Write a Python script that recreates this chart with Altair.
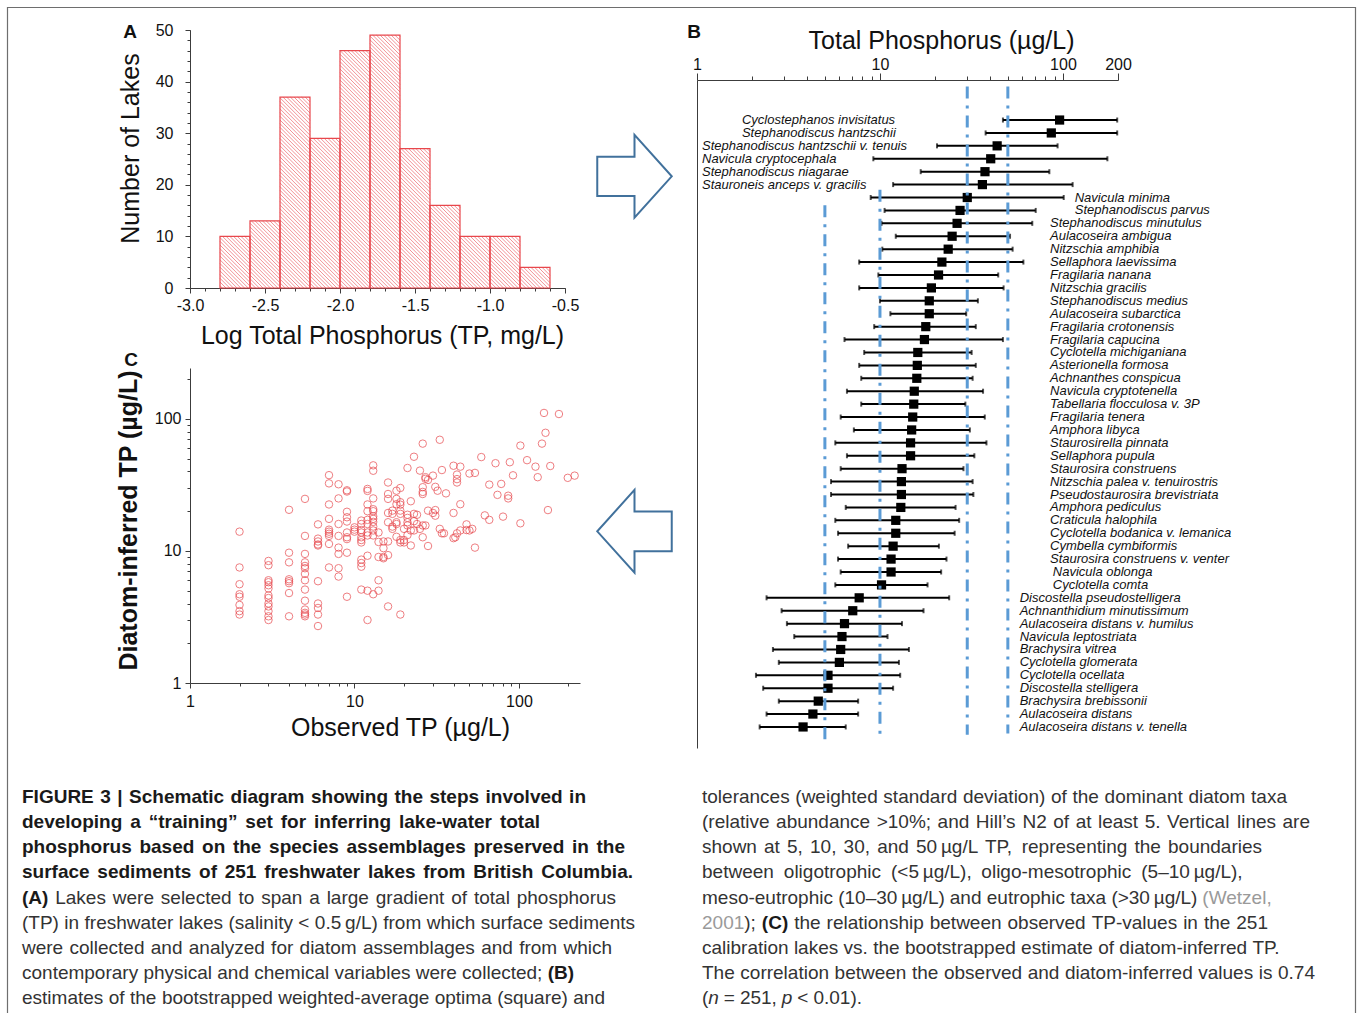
import math
import altair as alt
import pandas as pd

W, H = 1357, 1013
FONT = "Liberation Sans"
INK = "#111111"
AXC = "#3c3c3c"
RED = "#e8474c"
HATCH = "#f0868a"
BLUE = "#5b9bd5"
ARROW = "#41719c"
BORDER = "#6e6e6e"

# ---------------- Panel A: histogram of log TP (mg/L) ----------------
bin_starts = [-2.8, -2.6, -2.4, -2.2, -2.0, -1.8, -1.6, -1.4, -1.2, -1.0, -0.8]
lake_counts = [10, 13, 37, 29, 46, 49, 27, 16, 10, 10, 4]
BIN_WIDTH = 0.2
a_x_ticks = [-3.0, -2.5, -2.0, -1.5, -1.0, -0.5]
a_x_minor = [round(-3.0 + 0.1 * i, 1) for i in range(26)]
a_y_ticks = [0, 10, 20, 30, 40, 50]
a_y_minor = list(range(0, 51, 2))

# ---------------- Panel C: observed vs diatom-inferred TP ----------------
scatter_groups = {
    2: [14, 7.5, 5.6, 4.7, 4.5, 3.9, 3.5, 3.3],
    3: [8.4, 7.8, 6.0, 5.8, 5.5, 5.2, 4.6, 4.4, 4.0, 3.8, 3.5, 3.2, 3.0],
    4: [20.5, 9.7, 8.2, 6.1, 5.9, 5.7, 4.8, 3.2],
    5: [24.8, 13.0, 9.5, 8.2, 7.7, 7.4, 6.7, 6.0, 5.1, 4.2, 3.6, 3.4, 3.3, 3.2],
    6: [15.9, 12.4, 11.8, 11.2, 11.0, 5.9, 4.0, 3.7, 3.3, 2.7],
    7: [37.5, 32.5, 22.5, 17.5, 14.5, 14.0, 13.5, 13.0, 11.3, 7.5],
    8: [32, 25, 16, 13, 10.6, 9.5, 7.4, 6.4],
    9: [28.8, 28.2, 19.8, 18.0, 16.7, 13.8, 12.7, 12.3, 9.7, 4.5],
    10: [15.1, 14.5, 14.0],
    11: [17, 16, 14.4, 13.8, 12.7, 12.1, 11.6, 8.6, 8.1, 7.6, 5.1],
    12: [29.5, 28.5, 22.5, 20.0, 17.2, 16.0, 13.8, 13.1, 9.2, 5.0, 3.0],
    13: [44.5, 40.5, 25, 20.7, 20.0, 18.3, 17.5, 16.6, 15.3, 14.3, 13.1, 4.7],
    14: [13.8, 11.7, 9.0, 6.0, 5.0],
    15: [11.8, 10.5, 9.0, 8.8],
    16: [33, 27, 24.8, 19.4, 16.5, 11.8, 9.3, 3.8],
    17: [20.2, 19.1, 15.3, 14.7],
    18: [28.6, 24.8, 22.6, 16.5, 16.0, 12.8],
    19: [30, 23.4, 22.4, 20.2, 19.1, 12.1, 11.6, 3.3],
    20: [14.7, 12.1, 11.6],
    21: [42.5, 18.8, 17.8, 16.5, 15.6, 13.2],
    22: [23.8, 14.3, 11.0],
    23: [51.7, 19.1, 16.8, 14.3],
    24: [18.8, 16.0],
    25: [40.6, 14.7],
    26: [65, 30.4, 28, 27, 15.6, 12.7],
    27: [36.2, 35.2, 15.6],
    28: [34.5, 20.2, 10.9],
    30: [37.2, 19.4],
    31: [30.6, 20.4, 18.5],
    32: [28.6],
    33: [69.5, 14.7],
    34: [41, 13.6],
    35: [13.6],
    36: [27.3],
    40: [44.2, 19.4, 12.5],
    41: [12.7],
    42: [37.9, 35, 33, 13.6],
    44: [43.5, 22.6, 14.3],
    48: [15.9, 14.4],
    50: [38.6, 14.3],
    52: [14.7],
    54: [39, 10.6],
    59: [51.4],
    62: [18.6],
    66: [31.8, 17.2],
    72: [46.2],
    74: [26.6],
    78: [32.2],
    80: [18.2],
    86: [26.2, 25.0],
    88: [47.0],
    92: [37.4],
    102: [62.8, 16.2],
    112: [48.7],
    126: [43.5],
    130: [36.2],
    138: [65],
    142: [111],
    145: [78.5],
    150: [20.4],
    155: [44],
    175: [108.9],
    198: [35.8],
    218: [37.2],
}
log_major_c = [1, 10, 100]
log_minor = [2, 3, 4, 5, 6, 7, 8, 9, 20, 30, 40, 50, 60, 70, 80, 90, 200]

# ---------------- Panel B: WA optima and tolerances ----------------
species = [
    "Cyclostephanos invisitatus", "Stephanodiscus hantzschii",
    "Stephanodiscus hantzschii v. tenuis", "Navicula cryptocephala",
    "Stephanodiscus niagarae", "Stauroneis anceps v. gracilis",
    "Navicula minima", "Stephanodiscus parvus", "Stephanodiscus minutulus",
    "Aulacoseira ambigua", "Nitzschia amphibia", "Sellaphora laevissima",
    "Fragilaria nanana", "Nitzschia gracilis", "Stephanodiscus medius",
    "Aulacoseira subarctica", "Fragilaria crotonensis", "Fragilaria capucina",
    "Cyclotella michiganiana", "Asterionella formosa", "Achnanthes conspicua",
    "Navicula cryptotenella", "Tabellaria flocculosa v. 3P", "Fragilaria tenera",
    "Amphora libyca", "Staurosirella pinnata", "Sellaphora pupula",
    "Staurosira construens", "Nitzschia palea v. tenuirostris",
    "Pseudostaurosira brevistriata", "Amphora pediculus", "Craticula halophila",
    "Cyclotella bodanica v. lemanica", "Cymbella cymbiformis",
    "Staurosira construens v. venter", "Navicula oblonga", "Cyclotella comta",
    "Discostella pseudostelligera", "Achnanthidium minutissimum",
    "Aulacoseira distans v. humilus", "Navicula leptostriata", "Brachysira vitrea",
    "Cyclotella glomerata", "Cyclotella ocellata", "Discostella stelligera",
    "Brachysira brebissonii", "Aulacoseira distans", "Aulacoseira distans v. tenella",
]
optimum = [95.9, 86.4, 43.7, 40.3, 37.5, 36.3, 30.0, 27.4, 26.4, 24.8, 23.6, 21.8,
           20.9, 19.1, 18.6, 18.6, 17.8, 17.5, 16.1, 16.0, 15.9, 15.4, 15.3, 15.1,
           14.9, 14.7, 14.7, 13.2, 13.1, 13.1, 13.0, 12.2, 12.2, 11.8, 11.5, 11.5,
           10.2, 7.7, 7.1, 6.4, 6.2, 6.1, 6.0, 5.2, 5.2, 4.6, 4.3, 3.8]
tol_low = [47.0, 37.8, 20.5, 9.2, 16.7, 11.8, 8.9, 10.6, 10.2, 12.2, 10.3, 7.7,
           9.8, 7.7, 10.0, 11.4, 9.3, 6.4, 8.2, 7.7, 7.9, 6.6, 7.9, 6.1,
           7.2, 5.7, 6.6, 6.1, 5.4, 5.4, 6.5, 5.7, 5.9, 6.7, 5.9, 6.1,
           5.7, 2.4, 2.9, 3.1, 3.4, 2.6, 2.8, 2.1, 2.3, 2.8, 2.4, 2.2]
tol_high = [198, 198, 93.5, 175, 84.3, 113, 101, 71, 68, 51.4, 53.1, 60.8,
            44.3, 47.4, 34.3, 29.6, 33.4, 47.0, 31.7, 33.4, 32.1, 36.6, 29.3, 37.4,
            31.0, 38.2, 32.8, 28.6, 32.1, 32.4, 25.9, 27.1, 25.6, 21.0, 23.1, 21.6,
            18.2, 23.9, 17.3, 13.2, 11.0, 14.4, 12.7, 12.9, 11.8, 7.6, 7.6, 6.5]
label_group = ["l2"] * 2 + ["l1"] * 4 + ["r1"] * 2 + ["r2"] * 27 + ["r3"] * 2 + ["r4"] * 11
label_anchor_tp = {"l2": 1.76, "l1": 1.065, "r1": 116, "r2": 85, "r3": 88, "r4": 58}
trophic_bounds = [5, 10, 30, 50]
bound_top_row = [7.6, 6.4, -1.6, -1.6]
bound_bottom_row = [49.1, 48.6, 48.6, 48.5]
b_major = [1, 10, 100, 200]
b_minor = [2, 3, 4, 5, 6, 7, 8, 9, 20, 30, 40, 50, 60, 70, 80, 90]

# ---------------- layout (pixel frames of each panel) ----------------
A_XR, A_YR = [190, 565], [288, 30]
C_XR, C_YR = [190, 580], [683, 368]
B_XR, B_YR = [697, 1118], [80, 748]

A_XS = alt.Scale(domain=[-3.0, -0.5], range=A_XR, nice=False, zero=False)
A_YS = alt.Scale(domain=[0, 50], range=A_YR, nice=False, zero=False)
C_XS = alt.Scale(type="log", domain=[1, 235], range=C_XR, nice=False)
C_YS = alt.Scale(type="log", domain=[1, 243], range=C_YR, nice=False)
B_XS = alt.Scale(type="log", domain=[1, 200], range=B_XR, nice=False)
B_YS = alt.Scale(domain=[-2.1, 49.63], range=B_YR, nice=False, zero=False)
PX = alt.Scale(domain=[0, W], range=[0, W], nice=False, zero=False)
PY = alt.Scale(domain=[0, H], range=[0, H], nice=False, zero=False)


def axis(orient, offset, values, labels=True, tick=5, domain=True, title=None, **kw):
    args = dict(orient=orient, offset=offset, values=values, labels=labels, tickSize=tick,
                domain=domain, grid=False, tickColor=AXC, domainColor=AXC, tickWidth=1,
                domainWidth=1, labelFont=FONT, labelFontSize=16, labelColor=INK,
                labelFlush=False, labelOverlap=False, labelBound=False,
                titleFont=FONT, titleColor=INK, titleFontWeight="normal", titleFontSize=25,
                titleAlign="center", titleBaseline="middle", title=title)
    args.update(kw)
    return alt.Axis(**args)


# ---------------- Panel A layers ----------------
hist_df = pd.DataFrame({
    "x0": bin_starts,
    "x1": [round(b + BIN_WIDTH, 2) for b in bin_starts],
    "n": lake_counts,
    "base": [0] * len(bin_starts),
})

kx = (A_XR[1] - A_XR[0]) / 2.5
ky = (A_YR[0] - A_YR[1]) / 50.0
S = 3.7
hatch_rows = []
for x0, n in zip(bin_starts, lake_counts):
    u0, u1 = (x0 + 3) * kx, (x0 + BIN_WIDTH + 3) * kx
    vt, vb = (50 - n) * ky, 50 * ky
    for k in range(math.ceil((u0 - vb) / S), math.floor((u1 - vt) / S) + 1):
        c = k * S
        lo, hi = max(u0, vt + c), min(u1, vb + c)
        if hi - lo > 0.3:
            hatch_rows.append(dict(hx=lo / kx - 3, hy=50 - (lo - c) / ky,
                                   hx2=hi / kx - 3, hy2=50 - (hi - c) / ky))
hatch_df = pd.DataFrame(hatch_rows)

a_off_x = -(H - A_YR[0])
hatch = alt.Chart(hatch_df).mark_rule(color=HATCH, strokeWidth=0.9).encode(
    x=alt.X("hx:Q", scale=A_XS,
            axis=axis("bottom", a_off_x, a_x_minor, labels=False, tick=3, domain=False)),
    x2="hx2:Q",
    y=alt.Y("hy:Q", scale=A_YS,
            axis=axis("left", -A_XR[0], a_y_minor, labels=False, tick=3, domain=False)),
    y2="hy2:Q",
)
bars = alt.Chart(hist_df).mark_rect(fillOpacity=0, stroke=RED, strokeWidth=1.2).encode(
    x=alt.X("x0:Q", scale=A_XS,
            axis=axis("bottom", a_off_x, a_x_ticks, labelPadding=4,
                      labelExpr="replace(format(datum.value, '.1f'), '\u2212', '-')",
                      title="Log Total Phosphorus (TP, mg/L)", titleX=382, titleY=47)),
    x2="x1:Q",
    y=alt.Y("n:Q", scale=A_YS,
            axis=axis("left", -A_XR[0], a_y_ticks, format="d", labelPadding=12,
                      title="Number of Lakes", titleAngle=270, titleX=-60, titleY=148)),
    y2="base:Q",
)

# ---------------- Panel C layers ----------------
obs_vals, inf_vals = [], []
for o, ys in scatter_groups.items():
    for v in ys:
        obs_vals.append(o)
        inf_vals.append(v)
scat_df = pd.DataFrame({"obs": obs_vals, "inf": inf_vals})
c_off_x = -(H - C_YR[0])
scat_minor = alt.Chart(scat_df).mark_point(opacity=0).encode(
    x=alt.X("obs:Q", scale=C_XS,
            axis=axis("bottom", c_off_x, log_minor, labels=False, tick=3, domain=False)),
    y=alt.Y("inf:Q", scale=C_YS,
            axis=axis("left", -C_XR[0], log_minor, labels=False, tick=3, domain=False)),
)
scatter = alt.Chart(scat_df).mark_point(shape="circle", filled=False, color=RED,
                                        size=56, strokeWidth=1).encode(
    x=alt.X("obs:Q", scale=C_XS,
            axis=axis("bottom", c_off_x, log_major_c, format="d", labelPadding=5,
                      title="Observed TP (\u00b5g/L)", titleX=400, titleY=44)),
    y=alt.Y("inf:Q", scale=C_YS,
            axis=axis("left", -C_XR[0], log_major_c, format="d", labelPadding=4,
                      title="Diatom-inferred TP (\u00b5g/L)", titleAngle=270,
                      titleFontWeight="bold", titleX=-62, titleY=520)),
)

# ---------------- Panel B layers ----------------
rows = list(range(1, len(species) + 1))
b_df = pd.DataFrame({
    "species": species, "opt": optimum, "lo": tol_low, "hi": tol_high, "row": rows,
    "lab": [label_anchor_tp[g] for g in label_group],
})
ends_df = pd.DataFrame({"tp": tol_low + tol_high, "row": rows + rows})
bounds_df = pd.DataFrame({"tp": trophic_bounds, "r0": bound_top_row, "r1": bound_bottom_row})

b_minor_layer = alt.Chart(b_df).mark_point(opacity=0).encode(
    x=alt.X("opt:Q", scale=B_XS,
            axis=axis("top", -B_YR[0], b_minor, labels=False, tick=4, domain=False)),
    y=alt.Y("row:Q", scale=B_YS, axis=None),
)
errbars = alt.Chart(b_df).mark_rule(color="black", strokeWidth=2).encode(
    x=alt.X("lo:Q", scale=B_XS,
            axis=axis("top", -B_YR[0], b_major, format="d", tick=7, labelPadding=1,
                      title="Total Phosphorus (\u00b5g/L)", titleX=941, titleY=-40)),
    x2="hi:Q",
    y=alt.Y("row:Q", scale=B_YS,
            axis=axis("left", -B_XR[0], [0], labels=False, ticks=False)),
)
caps = alt.Chart(ends_df).mark_tick(orient="vertical", size=5, thickness=2, color="black").encode(
    x=alt.X("tp:Q", scale=B_XS, axis=None),
    y=alt.Y("row:Q", scale=B_YS, axis=None),
)
squares = alt.Chart(b_df).mark_square(size=85, filled=True, color="black", opacity=1).encode(
    x=alt.X("opt:Q", scale=B_XS, axis=None),
    y=alt.Y("row:Q", scale=B_YS, axis=None),
)
bounds = alt.Chart(bounds_df).mark_rule(color=BLUE, strokeWidth=3,
                                        strokeDash=[12, 7, 3, 7]).encode(
    x=alt.X("tp:Q", scale=B_XS, axis=None),
    y=alt.Y("r0:Q", scale=B_YS, axis=None),
    y2="r1:Q",
)
labels = alt.Chart(b_df).mark_text(font=FONT, fontSize=13, fontStyle="italic", align="left",
                                   baseline="middle", color=INK).encode(
    x=alt.X("lab:Q", scale=B_XS, axis=None),
    y=alt.Y("row:Q", scale=B_YS, axis=None),
    text="species:N",
)

# ---------------- panel letters, arrows, border ----------------
letters_df = pd.DataFrame({"t": ["A", "B", "C"], "px": [130, 694, 131], "py": [32, 32, 360]})
letters = alt.Chart(letters_df).mark_text(font=FONT, fontSize=19, fontWeight="bold",
                                          align="center", baseline="middle", color=INK).encode(
    x=alt.X("px:Q", scale=PX, axis=None), y=alt.Y("py:Q", scale=PY, axis=None), text="t:N")

arrow_right = "M -0.9 -0.475 L 0 -0.475 L 0 -1 L 0.9 0 L 0 1 L 0 0.475 L -0.9 0.475 Z"
arrow_left = "M 0.9 -0.48 L 0 -0.48 L 0 -1 L -0.9 0 L 0 1 L 0 0.48 L 0.9 0.48 Z"
arrows_df = pd.DataFrame({"shape": [arrow_right, arrow_left], "px": [634.5, 634.5],
                          "py": [176.3, 531.3]})
arrows = alt.Chart(arrows_df).mark_point(filled=False, size=6850, stroke=ARROW,
                                         strokeWidth=2, opacity=1).encode(
    x=alt.X("px:Q", scale=PX, axis=None), y=alt.Y("py:Q", scale=PY, axis=None),
    shape=alt.Shape("shape:N", scale=None))

border = alt.Chart(pd.DataFrame({"k": [0]})).mark_rect(
    fillOpacity=0, stroke=BORDER, strokeWidth=1.2).encode(
    x=alt.value(7.5), x2=alt.value(1355.5), y=alt.value(7.5), y2=alt.value(1060))

# ---------------- caption ----------------
FS = 19
REG = {' ': 278, '!': 278, '"': 355, '%': 889, '&': 667, "'": 191, '(': 333, ')': 333,
       '*': 389, '+': 584, ',': 278, '-': 333, '.': 278, '/': 278, ':': 278, ';': 278,
       '<': 584, '=': 584, '>': 584, '?': 556, '|': 260, '\u201c': 333, '\u201d': 333,
       '\u2019': 222, '\u00b5': 556, '\u2013': 556, '\u2009': 200}
REG.update({d: 556 for d in "0123456789"})
REG.update(dict(zip("ABCDEFGHIJKLMNOPQRSTUVWXYZ",
                    [667, 667, 722, 722, 667, 611, 778, 722, 278, 500, 667, 556, 833, 722,
                     778, 667, 778, 722, 667, 611, 722, 667, 944, 667, 667, 611])))
REG.update(dict(zip("abcdefghijklmnopqrstuvwxyz",
                    [556, 556, 500, 556, 556, 278, 556, 556, 222, 222, 500, 222, 833, 556,
                     556, 556, 556, 333, 500, 278, 556, 500, 722, 500, 500, 500])))
BOLD = dict(REG)
BOLD.update({'!': 333, '"': 474, ':': 333, ';': 333, '|': 280, '\u201c': 500, '\u201d': 500,
             '\u2019': 278})
BOLD.update(dict(zip("ABCDEFGHIJKLMNOPQRSTUVWXYZ",
                     [722, 722, 722, 722, 667, 611, 778, 722, 278, 556, 722, 611, 833, 722,
                      778, 667, 778, 722, 667, 611, 722, 667, 944, 667, 667, 611])))
BOLD.update(dict(zip("abcdefghijklmnopqrstuvwxyz",
                     [556, 611, 556, 611, 556, 333, 611, 611, 278, 278, 556, 278, 889, 611,
                      611, 611, 611, 389, 556, 333, 611, 556, 778, 556, 556, 500])))


def text_w(s, style):
    tbl = BOLD if style == "b" else REG
    return sum(tbl.get(ch, 556) for ch in s) * FS / 1000.0


caption_left = [
    ([("FIGURE 3 | Schematic diagram showing the steps involved in", "b")], 586),
    ([("developing a \u201ctraining\u201d set for inferring lake-water total", "b")], 540),
    ([("phosphorus based on the species assemblages preserved in the", "b")], 625),
    ([("surface sediments of 251 freshwater lakes from British Columbia.", "b")], 633),
    ([("(A)", "b"), (" Lakes were selected to span a large gradient of total phosphorus", "r")], 616),
    ([("(TP) in freshwater lakes (salinity < 0.5\u2009g/L) from which surface sediments", "r")], 635),
    ([("were collected and analyzed for diatom assemblages and from which", "r")], 612),
    ([("contemporary physical and chemical variables were collected; ", "r"), ("(B)", "b")], 574),
    ([("estimates of the bootstrapped weighted-average optima (square) and", "r")], 605),
]
caption_right = [
    ([("tolerances (weighted standard deviation) of the dominant diatom taxa", "r")], 1287),
    ([("(relative abundance >10%; and Hill\u2019s N2 of at least 5. Vertical lines are", "r")], 1310),
    ([("shown at 5, 10, 30, and 50\u2009\u00b5g/L TP, representing the boundaries", "r")], 1262),
    ([("between oligotrophic (<5\u2009\u00b5g/L), oligo-mesotrophic (5\u201310\u2009\u00b5g/L),", "r")], 1297),
    ([("meso-eutrophic (10\u201330\u2009\u00b5g/L) and eutrophic taxa (>30\u2009\u00b5g/L) ", "r"),
      ("(Wetzel,", "g")], 1272),
    ([("2001", "g"), ("); ", "r"), ("(C)", "b"),
      (" the relationship between observed TP-values in the 251", "r")], 1268),
    ([("calibration lakes vs. the bootstrapped estimate of diatom-inferred TP.", "r")], 1282),
    ([("The correlation between the observed and diatom-inferred values is 0.74", "r")], 1315),
    ([("(", "r"), ("n", "i"), (" = 251, ", "r"), ("p", "i"), (" < 0.01).", "r")], 862),
]
MAX_GAP = 10.0


def tokenize(segments):
    words, pending = [], True
    for text, style in segments:
        for ch in text:
            if ch == " ":
                pending = True
            elif pending or not words:
                words.append([[ch, style]])
                pending = False
            else:
                last = words[-1][-1]
                if last[1] == style:
                    last[0] += ch
                else:
                    words[-1].append([ch, style])
    return words


cap_rows = []
for col_x, lines in ((22, caption_left), (702, caption_right)):
    for i, (segs, end_x) in enumerate(lines):
        words = tokenize(segs)
        widths = [sum(text_w(t, s) for t, s in w) for w in words]
        gap = (end_x - col_x - sum(widths)) / max(len(words) - 1, 1)
        gap = min(gap, MAX_GAP)
        x = col_x
        y = 797 + 25.15 * i
        for w, wd in zip(words, widths):
            px = x
            for t, s in w:
                for k, part in enumerate(t.split("\u2009")):
                    if k:
                        px += 0.2 * FS
                    if part:
                        cap_rows.append(dict(t=part, px=px, py=y, s=s))
                    px += text_w(part, s)
            x += wd + gap
cap_df = pd.DataFrame(cap_rows)

cap_styles = {
    "r": dict(color="#333333"),
    "b": dict(color="#1a1a1a", fontWeight="bold"),
    "g": dict(color="#9a9a9a"),
    "i": dict(color="#333333", fontStyle="italic"),
}
caption_layers = []
for s, props in cap_styles.items():
    sub = cap_df[cap_df["s"] == s]
    if len(sub):
        caption_layers.append(
            alt.Chart(sub).mark_text(font=FONT, fontSize=FS, align="left",
                                     baseline="middle", **props).encode(
                x=alt.X("px:Q", scale=PX, axis=None),
                y=alt.Y("py:Q", scale=PY, axis=None),
                text="t:N"))

chart = alt.layer(
    border, hatch, bars, scat_minor, scatter,
    b_minor_layer, errbars, caps, squares, bounds, labels,
    letters, arrows, *caption_layers,
).resolve_scale(x="independent", y="independent").properties(
    width=W, height=H, autosize=alt.AutoSizeParams(type="none"), padding=0,
    background="white",
).configure_view(stroke="transparent")

chart.save("out.html", embed_options={"renderer": "svg", "actions": False})
